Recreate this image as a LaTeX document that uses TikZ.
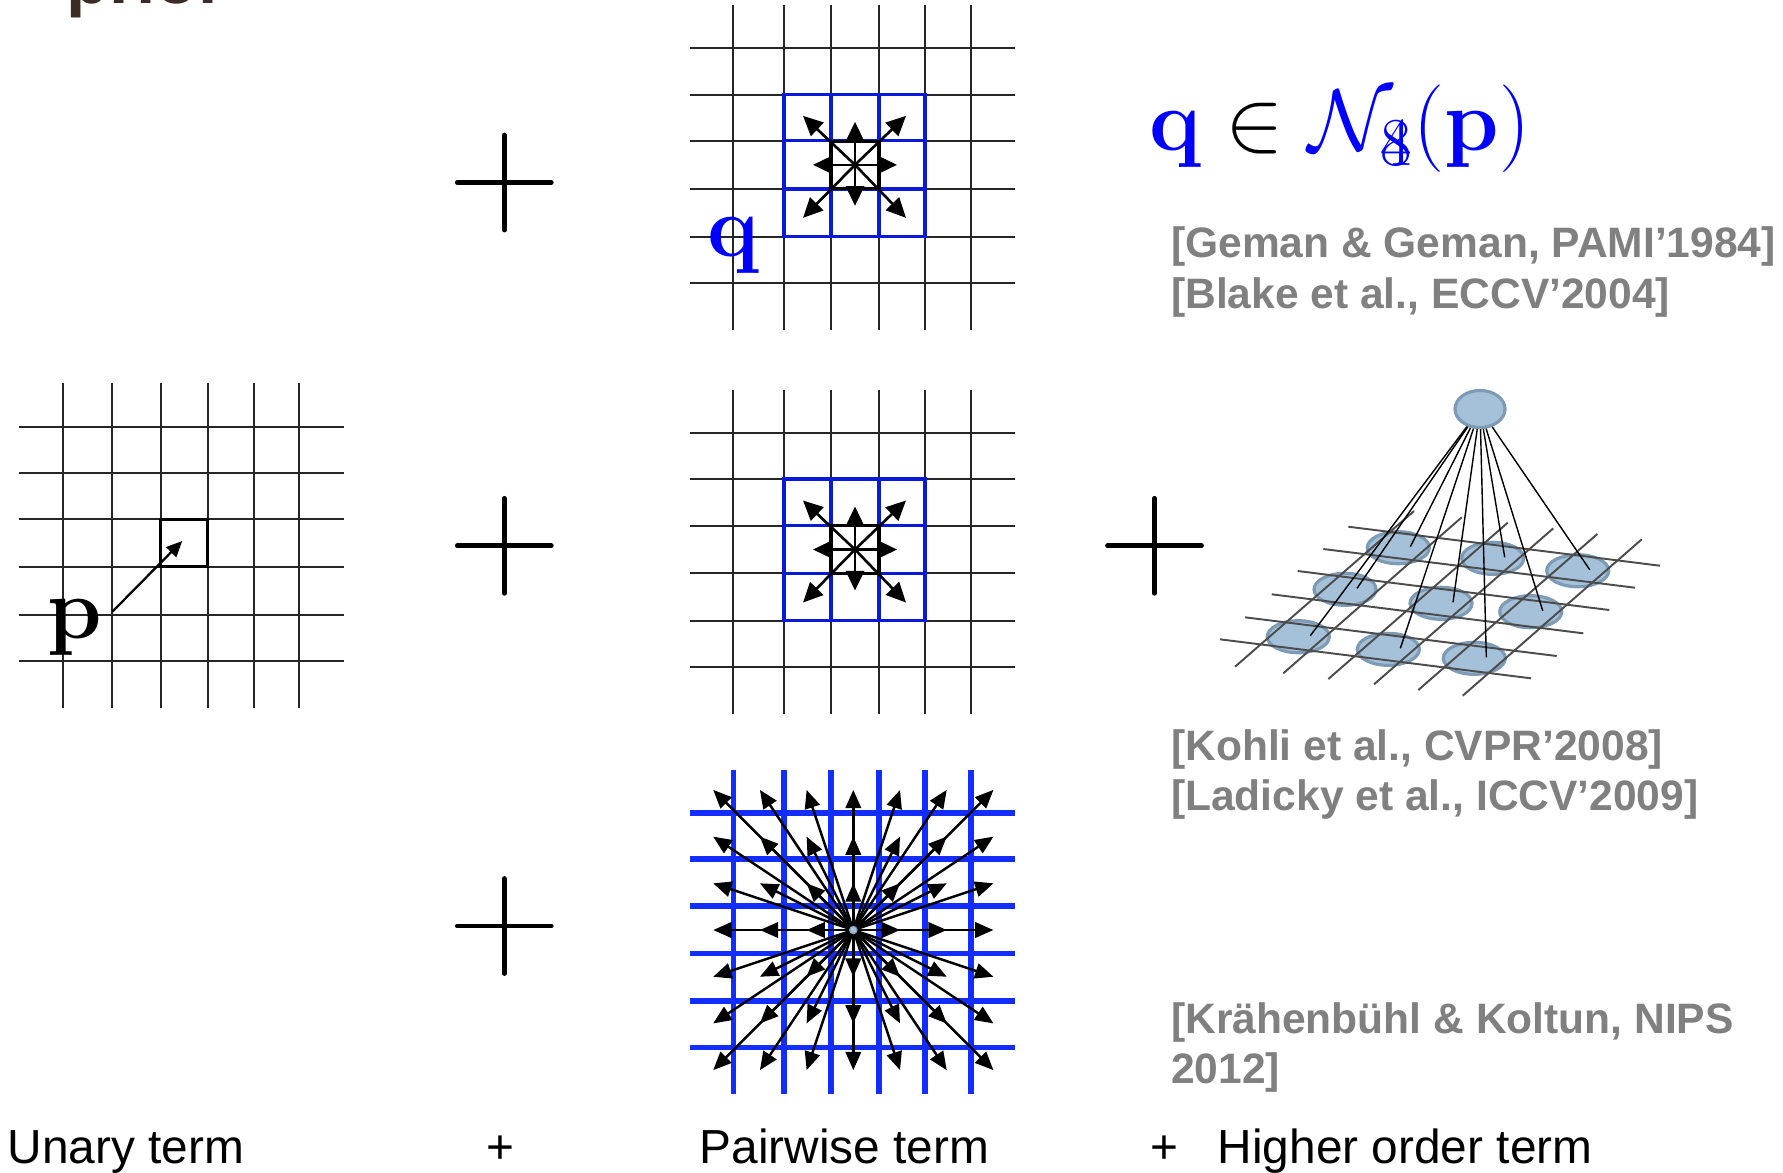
\documentclass[tikz,border=0pt]{standalone}
\usepackage[no-math]{fontspec}
\newfontfamily\arial{Liberation Sans}
\usetikzlibrary{arrows.meta,shapes.geometric}
\definecolor{gridblue}{RGB}{20,45,255}
\definecolor{boxblue}{RGB}{10,25,215}
\definecolor{fblue}{RGB}{0,0,255}
\definecolor{citegray}{RGB}{128,128,128}
\definecolor{nodefill}{RGB}{164,193,217}
\definecolor{nodeedge}{RGB}{125,155,180}
\definecolor{titlebrown}{RGB}{60,43,37}
\begin{document}
\begin{tikzpicture}[x=0.01cm,y=-0.01cm,
  gridline/.style={line width=0.6pt, black!85},
  boxline/.style={line width=0.95pt, boxblue},
  cellbox/.style={draw=black, line width=0.9pt, minimum width=0.48cm, minimum height=0.475cm, inner sep=0},
  parr/.style={line width=0.75pt, -{Triangle[length=5.6pt,width=5.2pt]}},
  barr/.style={line width=0.7pt, -{Triangle[length=5.2pt,width=4.4pt]}},
  uarr/.style={line width=0.65pt, -{Triangle[length=4.5pt,width=4pt]}},
  bline/.style={line width=1.6pt, gridblue},
  plusline/.style={line width=1.35pt, line cap=round},
  cite/.style={anchor=base west, inner sep=0, text=citegray, font=\arial\bfseries\fontsize{12.1}{14}\selectfont},
  termlabel/.style={anchor=base west, inner sep=0, font=\arial\fontsize{13.6}{16}\selectfont},
  hnode/.style={ellipse, draw=nodeedge, fill=nodefill, line width=0.9pt, minimum width=0.62cm, minimum height=0.32cm, inner sep=0},
  pgline/.style={line width=0.55pt, black!70},
  conn/.style={line width=0.4pt, black}]

\fill[white] (0,0) rectangle (1783,1172);
\useasboundingbox (0,0) rectangle (1783,1172);

% partially visible title
\node[anchor=base west, inner sep=0, text=titlebrown, font=\arial\bfseries\fontsize{19.8}{22}\selectfont] (title) at (66,3) {prior};

% ---------- unary grid ----------
\foreach \x in {62.7,112.3,160.7,207.7,254,299.3} \draw[gridline] (\x,382.7) -- (\x,708.3);
\foreach \y in {426.7,472.7,519.3,566.7,615,661} \draw[gridline] (19.3,\y) -- (344.3,\y);
\node[draw=black, line width=0.9pt, minimum width=0.47cm, minimum height=0.474cm, inner sep=0] (pcell) at (184.2,543) {};
\node[anchor=base, inner sep=0, font=\fontsize{24.8}{28}\selectfont] (plabel) at (74.5,638.3) {$\mathbf{p}$};
\coordinate (pstart) at (112.3,611.7);
\draw[uarr] (pstart) -- ([xshift=-0.02cm,yshift=0.02cm]pcell.center);

% ---------- top pairwise grid ----------
\foreach \x in {733.3,784,831,879,925,970.7} \draw[gridline] (\x,5) -- (\x,330);
\foreach \y in {48.3,94.7,140.7,189,236.7,282.7} \draw[gridline] (690,\y) -- (1015,\y);
\draw[boxline] (784,94.7) rectangle (925,236.7);
\foreach \x in {831,879} \draw[boxline] (\x,94.7) -- (\x,236.7);
\foreach \y in {140.7,189} \draw[boxline] (784,\y) -- (925,\y);
\node[cellbox] (ccell1) at (855,164.85) {};
\foreach \dx/\dy in {-52/-49,51/-49,-52/53,51/53,0/-43,0/41,-42/0,42/0}
  \draw[parr] (ccell1.center) -- ++(\dx,\dy);
\node[anchor=base, inner sep=0, text=fblue, font=\fontsize{29.5}{32}\selectfont] (qlabel) at (733,256.7) {$\mathbf{q}$};

% ---------- middle pairwise grid ----------
\foreach \x in {733.3,784,831,879,925,970.7} \draw[gridline] (\x,390) -- (\x,714);
\foreach \y in {432.7,479,525.7,573.3,620.7,667.3} \draw[gridline] (690,\y) -- (1015,\y);
\draw[boxline] (784,479) rectangle (925,620.7);
\foreach \x in {831,879} \draw[boxline] (\x,479) -- (\x,620.7);
\foreach \y in {525.7,573.3} \draw[boxline] (784,\y) -- (925,\y);
\node[cellbox] (ccell2) at (855,549.5) {};
\foreach \dx/\dy in {-52/-49,51/-49,-52/53,51/53,0/-43,0/41,-42/0,42/0}
  \draw[parr] (ccell2.center) -- ++(\dx,\dy);

% ---------- bottom dense grid ----------
\foreach \x in {733.3,784,831,879,925,970.7} \draw[bline] (\x,770) -- (\x,1094);
\foreach \y in {812.7,859,905.7,953.3,1000.7,1047.3} \draw[bline] (690,\y) -- (1015,\y);
\coordinate (c3) at (853.3,930);
\foreach \i in {-3,...,3}{
  \foreach \j in {-3,...,3}{
    \pgfmathtruncatemacro\nn{\i*\i+\j*\j}
    \ifnum\nn>0 \draw[barr] (c3) -- ++({46.7*\i},{46.7*\j}); \fi
  }
}
\node[circle, fill=nodefill, draw=nodeedge, line width=0.3pt, minimum size=0.075cm, inner sep=0] (dot3) at (c3) {};

% ---------- plus signs ----------
\foreach \cx/\cy in {504.3/182.5, 504.3/545.8, 504.3/926, 1154.5/545.8}{
  \draw[plusline] (\cx-47,\cy) -- (\cx+47,\cy);
  \draw[plusline] (\cx,\cy-47.5) -- (\cx,\cy+47.5);
}

% ---------- formula ----------
\node[anchor=base west, inner sep=0, font=\fontsize{25.4}{28}\selectfont] (formula) at (1149,150)
  {$\color{fblue}\mathbf{q}\color{black}\in\color{fblue}\mathcal{N}_{\hbox{\fontsize{19.5}{20}\selectfont\rlap{4}8}}(\mathbf{p})$};

% ---------- citations ----------
\node[cite] (cite1) at (1170.4,257) {[Geman \& Geman, PAMI’1984]};
\node[cite] (cite2) at (1170.4,308) {[Blake et al., ECCV’2004]};
\node[cite] (cite3) at (1170.4,760) {[Kohli et al., CVPR’2008]};
\node[cite] (cite4) at (1170.4,810) {[Ladicky et al., ICCV’2009]};
\node[cite] (cite5) at (1170.4,1033) {[Krähenbühl \& Koltun, NIPS};
\node[cite] (cite6) at (1170.4,1083) {2012]};

% ---------- higher order graph ----------
\node[hnode] (e1) at (1398.3,547.7) {};
\node[hnode] (e2) at (1492.7,558.3) {};
\node[hnode] (e3) at (1577.7,570.7) {};
\node[hnode] (e4) at (1345,589.3) {};
\node[hnode] (e5) at (1441,603.3) {};
\node[hnode] (e6) at (1530.7,611.7) {};
\node[hnode] (e7) at (1298.3,636.7) {};
\node[hnode] (e8) at (1388.3,649.3) {};
\node[hnode] (e9) at (1474.3,658.3) {};
% perspective grid lines
\draw[pgline] (1348.3,526.7) -- (1660,565.7);
\draw[pgline] (1323.3,549) -- (1635,587.7);
\draw[pgline] (1297.7,571) -- (1609.3,610);
\draw[pgline] (1271.7,594.3) -- (1583.3,633.3);
\draw[pgline] (1245,617.3) -- (1556.7,656);
\draw[pgline] (1220,639.3) -- (1531,678.3);
\draw[pgline] (1235,666.7) -- (1414,511);
\draw[pgline] (1283.3,673.3) -- (1461.7,517.3);
\draw[pgline] (1328.3,679) -- (1507.7,522.7);
\draw[pgline] (1374,684.3) -- (1553.3,528.3);
\draw[pgline] (1418.3,690) -- (1597.3,534);
\draw[pgline] (1462.7,695.7) -- (1641.7,539.3);
% clique node
\node[ellipse, draw=nodeedge, fill=nodefill, line width=0.9pt, minimum width=0.5cm, minimum height=0.37cm, inner sep=0] (top) at (1480,409) {};
\foreach \k in {1,...,9}
  \draw[conn] (top) -- ([xshift=0.12cm,yshift=0.01cm]e\k.center);

% ---------- term labels ----------
\node[termlabel] (unary) at (7,1163.3) {Unary term};
\node[termlabel] (plus1) at (486,1163.3) {+};
\node[termlabel] (pairwise) at (699,1163.3) {Pairwise term};
\node[termlabel] (plus2) at (1150,1163.3) {+};
\node[termlabel] (higher) at (1217,1163.3) {Higher order term};
\end{tikzpicture}
\end{document}
